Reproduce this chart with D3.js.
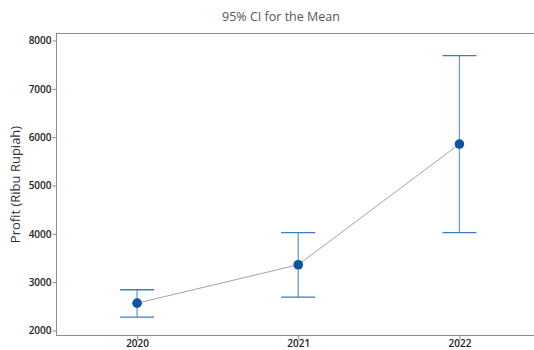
<!DOCTYPE html>
<html>
<head>
<meta charset="utf-8">
<script src="https://cdn.jsdelivr.net/npm/d3@7"></script>
<style>
  body { margin: 0; background: #fff; }
  text { font-family: "Open Sans", "Noto Sans", sans-serif; }
</style>
</head>
<body>
<div id="chart"></div>
<script>
// values
let years = ["2020", "2021", "2022"];
let means = [2565, 3360, 5857];
let lowerCI = [2275, 2689, 4023];
let upperCI = [2843, 4023, 7687];
let yTicks = [2000, 3000, 4000, 5000, 6000, 7000, 8000];

let W = 534, H = 350;
let plot = {left: 56.5, top: 33.5, right: 540, bottom: 335.5};

let svg = d3.select("#chart")
    .append("svg")
    .attr("width", W)
    .attr("height", H);

let x = d3.scalePoint()
    .domain(years)
    .range([plot.left, plot.right])
    .padding(0.5);

let y = d3.scaleLinear()
    .domain([1896, 8145])
    .range([plot.bottom, plot.top]);

// frame
svg.append("rect")
    .attr("x", plot.left)
    .attr("y", plot.top)
    .attr("width", plot.right - plot.left)
    .attr("height", plot.bottom - plot.top)
    .attr("fill", "none")
    .attr("stroke", "#8c8c8c")
    .attr("stroke-width", 1);

// axes
let yAxis = svg.append("g")
    .attr("transform", "translate(" + plot.left + ",0)")
    .call(d3.axisLeft(y).tickValues(yTicks).tickSize(4).tickFormat(d3.format("d")));
let xAxis = svg.append("g")
    .attr("transform", "translate(0," + plot.bottom + ")")
    .call(d3.axisBottom(x).tickSize(4));

[yAxis, xAxis].forEach(function (g) {
    g.select(".domain").remove();
    g.selectAll(".tick line").attr("stroke", "#8c8c8c");
    g.selectAll(".tick text")
        .attr("fill", "#222")
        .style("font-size", "10px")
        .style("font-weight", 600);
});
yAxis.selectAll(".tick text").attr("x", -5);
xAxis.selectAll(".tick text").attr("y", 5).attr("dy", "0.65em");

let data = years.map(function (d, i) {
    return {year: d, mean: means[i], lo: lowerCI[i], hi: upperCI[i]};
});

// error bars
let bars = svg.append("g");
bars.selectAll(".ci")
    .data(data)
    .enter()
    .append("line")
    .attr("x1", d => x(d.year))
    .attr("x2", d => x(d.year))
    .attr("y1", d => y(d.lo))
    .attr("y2", d => y(d.hi))
    .attr("stroke", "#6a9fd4")
    .attr("stroke-width", 1.3);
["lo", "hi"].forEach(function (k) {
    bars.selectAll(".cap-" + k)
        .data(data)
        .enter()
        .append("line")
        .attr("x1", d => x(d.year) - 17)
        .attr("x2", d => x(d.year) + 17)
        .attr("y1", d => y(d[k]))
        .attr("y2", d => y(d[k]))
        .attr("stroke", "#3d7cc0")
        .attr("stroke-width", 1.3);
});

// connect line
let line = d3.line()
    .x(d => x(d.year))
    .y(d => y(d.mean));
svg.append("path")
    .datum(data)
    .attr("d", line)
    .attr("fill", "none")
    .attr("stroke", "#8a8a8a")
    .attr("stroke-width", 0.8);

// mean dots
svg.selectAll(".dot")
    .data(data)
    .enter()
    .append("circle")
    .attr("cx", d => x(d.year))
    .attr("cy", d => y(d.mean))
    .attr("r", 4.8)
    .attr("fill", "#0b55a3");

// title
svg.append("text")
    .attr("x", 281)
    .attr("y", 21)
    .attr("text-anchor", "middle")
    .attr("fill", "#555")
    .style("font-size", "12.5px")
    .text("95% CI for the Mean");

// y label
svg.append("text")
    .attr("transform", "translate(20," + ((plot.top + plot.bottom) / 2) + ") rotate(-90)")
    .attr("text-anchor", "middle")
    .attr("fill", "#333")
    .style("font-size", "13px")
    .style("font-weight", 500)
    .text("Profit (Ribu Rupiah)");
</script>
</body>
</html>
